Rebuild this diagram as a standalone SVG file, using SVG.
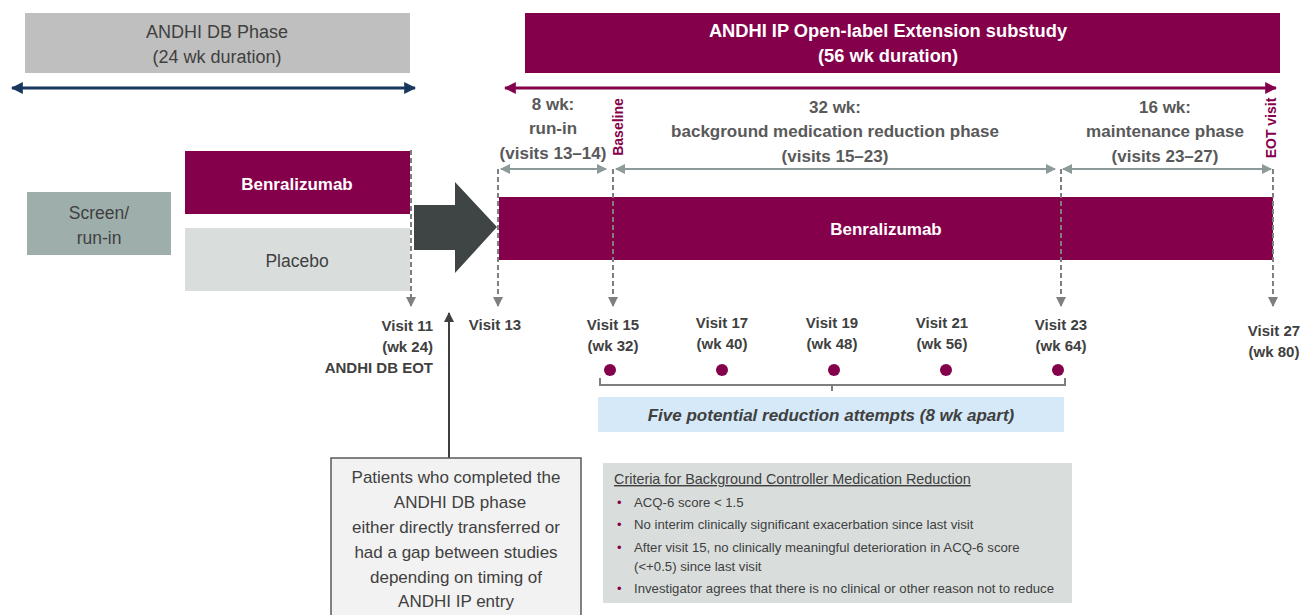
<svg xmlns="http://www.w3.org/2000/svg" width="1303" height="615" viewBox="0 0 1303 615">
<defs>
<style>
text{font-family:"Liberation Sans",Arial,sans-serif;}
.w{fill:#ffffff;font-weight:bold;font-size:17px;text-anchor:middle;}
.g{fill:#595959;font-weight:bold;font-size:17px;text-anchor:middle;}
.v{fill:#404040;font-weight:bold;font-size:15px;text-anchor:middle;}
.dash{stroke:#7f7f7f;stroke-width:2;stroke-dasharray:5,3;fill:none;}
.ga{stroke:#8c9a99;stroke-width:2;fill:none;}
.b{fill:#404040;font-size:13.2px;}
.dot{fill:#85004b;}
</style>
<marker id="ah" viewBox="0 0 10 10" refX="9" refY="5" markerWidth="5" markerHeight="5" orient="auto-start-reverse"><path d="M0,0L10,5L0,10z" fill="#8c9a99"/></marker>
<marker id="dh" viewBox="0 0 10 10" refX="9" refY="5" markerWidth="5" markerHeight="5" orient="auto"><path d="M0,0L10,5L0,10z" fill="#7f7f7f"/></marker>
<marker id="bh" viewBox="0 0 10 10" refX="9" refY="5" markerWidth="4" markerHeight="4" orient="auto-start-reverse"><path d="M0,0L10,5L0,10z" fill="#17375e"/></marker>
<marker id="mh" viewBox="0 0 10 10" refX="9" refY="5" markerWidth="4" markerHeight="4" orient="auto-start-reverse"><path d="M0,0L10,5L0,10z" fill="#85004b"/></marker>
<marker id="kh" viewBox="0 0 10 10" refX="9" refY="5" markerWidth="5" markerHeight="5" orient="auto"><path d="M0,0L10,5L0,10z" fill="#404040"/></marker>
</defs>
<rect width="1303" height="615" fill="#ffffff"/>

<g id="db-phase">
<rect x="25" y="13" width="385" height="60" fill="#bfbfbf"/>
<text x="217" y="38" fill="#404040" font-size="18" text-anchor="middle">ANDHI DB Phase</text>
<text x="217" y="63" fill="#404040" font-size="18" text-anchor="middle">(24 wk duration)</text>
</g>
<g id="ip-phase">
<rect x="525" y="13" width="755" height="60" fill="#85004b"/>
<text x="888" y="37" fill="#ffffff" font-size="18.3" font-weight="bold" text-anchor="middle">ANDHI IP Open-label Extension substudy</text>
<text x="888" y="62" fill="#ffffff" font-size="18.3" font-weight="bold" text-anchor="middle">(56 wk duration)</text>
</g>

<g id="period-labels">
<text class="g" x="553" y="110">8 wk:</text>
<text class="g" x="553" y="134">run-in</text>
<text class="g" x="553" y="159">(visits 13–14)</text>
<text class="g" x="835" y="113">32 wk:</text>
<text class="g" x="835" y="137">background medication reduction phase</text>
<text class="g" x="835" y="162">(visits 15–23)</text>
<text class="g" x="1165" y="113">16 wk:</text>
<text class="g" x="1165" y="137">maintenance phase</text>
<text class="g" x="1165" y="162">(visits 23–27)</text>
<text transform="translate(623,127) rotate(-90)" fill="#85004b" font-size="14" font-weight="bold" text-anchor="middle">Baseline</text>
<text transform="translate(1276,128) rotate(-90)" fill="#85004b" font-size="14" font-weight="bold" text-anchor="middle">EOT visit</text>
</g>

<g id="screen"><rect x="27" y="192" width="144" height="63" fill="#9eaeab"/>
<text x="99" y="219" fill="#404040" font-size="17.5" text-anchor="middle">Screen/</text>
<text x="99" y="244" fill="#404040" font-size="17.5" text-anchor="middle">run-in</text></g>
<g id="benra-db"><rect x="185" y="151" width="225" height="63" fill="#85004b"/>
<text class="w" x="297" y="190">Benralizumab</text></g>
<g id="placebo"><rect x="185" y="228" width="225" height="63" fill="#d9dedd"/>
<text x="297" y="267" fill="#404040" font-size="17.5" text-anchor="middle">Placebo</text></g>
<g id="transfer-arrow"><path d="M414,205H455V182L497,227L455,273V250H414Z" fill="#3f4444"/></g>
<g id="benra-ip"><rect x="499" y="197" width="774" height="63" fill="#85004b"/>
<text class="w" x="886" y="235">Benralizumab</text></g>

<g id="connectors">
<line x1="12" y1="88" x2="415" y2="88" stroke="#17375e" stroke-width="3" marker-start="url(#bh)" marker-end="url(#bh)"/>
<line x1="505" y1="88" x2="1276" y2="88" stroke="#85004b" stroke-width="3" marker-start="url(#mh)" marker-end="url(#mh)"/>
<line class="ga" x1="501" y1="169" x2="606" y2="169" marker-start="url(#ah)" marker-end="url(#ah)"/>
<line class="ga" x1="616" y1="169" x2="1055" y2="169" marker-start="url(#ah)" marker-end="url(#ah)"/>
<line class="ga" x1="1063" y1="169" x2="1271" y2="169" marker-start="url(#ah)" marker-end="url(#ah)"/>
<line class="dash" x1="411" y1="150" x2="411" y2="306" marker-end="url(#dh)"/>
<line class="dash" x1="498" y1="169" x2="498" y2="306" marker-end="url(#dh)"/>
<line class="dash" x1="613" y1="169" x2="613" y2="306" marker-end="url(#dh)"/>
<line class="dash" x1="1061" y1="169" x2="1061" y2="306" marker-end="url(#dh)"/>
<line class="dash" x1="1273" y1="169" x2="1273" y2="306" marker-end="url(#dh)"/>
<path d="M600,378V385H1065V378M832,385V391" stroke="#7f7f7f" stroke-width="2" fill="none"/>
<line x1="449" y1="458" x2="449" y2="313" stroke="#404040" stroke-width="2" marker-end="url(#kh)"/>
</g>

<g id="visits">
<text class="v" x="433" y="331" style="text-anchor:end">Visit 11</text>
<text class="v" x="433" y="352" style="text-anchor:end">(wk 24)</text>
<text class="v" x="433" y="373" style="text-anchor:end">ANDHI DB EOT</text>
<text class="v" x="495" y="330">Visit 13</text>
<text class="v" x="613" y="330">Visit 15</text>
<text class="v" x="613" y="351">(wk 32)</text>
<text class="v" x="722" y="328">Visit 17</text>
<text class="v" x="722" y="349">(wk 40)</text>
<text class="v" x="832" y="328">Visit 19</text>
<text class="v" x="832" y="349">(wk 48)</text>
<text class="v" x="942" y="328">Visit 21</text>
<text class="v" x="942" y="349">(wk 56)</text>
<text class="v" x="1061" y="330">Visit 23</text>
<text class="v" x="1061" y="351">(wk 64)</text>
<text class="v" x="1274" y="336">Visit 27</text>
<text class="v" x="1274" y="357">(wk 80)</text>
</g>
<g id="dots">
<circle class="dot" cx="610" cy="370" r="6"/>
<circle class="dot" cx="722" cy="370" r="6"/>
<circle class="dot" cx="834" cy="370" r="6"/>
<circle class="dot" cx="946" cy="370" r="6"/>
<circle class="dot" cx="1058" cy="370" r="6"/>
</g>
<g id="reduction-box"><rect x="598" y="397" width="466" height="35" fill="#d5e9f8"/>
<text x="831" y="421" fill="#404040" font-size="17" font-weight="bold" font-style="italic" text-anchor="middle">Five potential reduction attempts (8 wk apart)</text></g>

<g id="patients-box"><rect x="331" y="458" width="250" height="160" fill="#f2f2f2" stroke="#595959" stroke-width="1.5"/>
<g fill="#404040" font-size="17" text-anchor="middle">
<text x="456" y="483">Patients who completed the</text>
<text x="460" y="508">ANDHI DB phase</text>
<text x="456" y="533">either directly transferred or</text>
<text x="456" y="558">had a gap between studies</text>
<text x="456" y="583">depending on timing of</text>
<text x="456" y="607">ANDHI IP entry</text></g></g>

<g id="criteria-box"><rect x="603" y="463" width="469" height="140" fill="#d9dedd"/>
<text x="614" y="484" fill="#404040" font-size="14.4" text-decoration="underline">Criteria for Background Controller Medication Reduction</text>
<g fill="#85004b" font-size="13"><text x="617" y="507">•</text><text x="617" y="529">•</text><text x="617" y="552">•</text><text x="617" y="593">•</text></g>
<text class="b" x="634" y="507">ACQ-6 score &lt; 1.5</text>
<text class="b" x="634" y="529">No interim clinically significant exacerbation since last visit</text>
<text class="b" x="634" y="552">After visit 15, no clinically meaningful deterioration in ACQ-6 score</text>
<text class="b" x="634" y="571">(&lt;+0.5) since last visit</text>
<text class="b" x="634" y="593">Investigator agrees that there is no clinical or other reason not to reduce</text>
</g>
</svg>
